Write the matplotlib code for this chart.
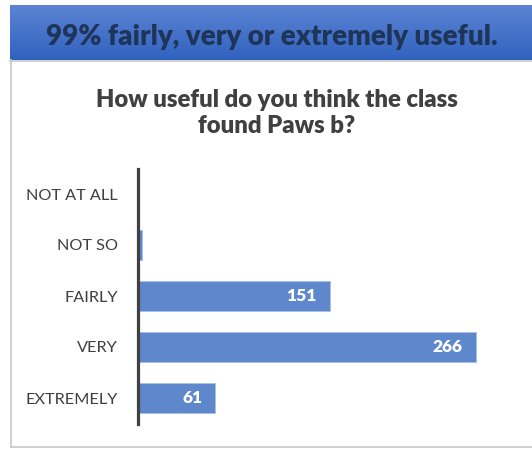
import numpy as np
import matplotlib
matplotlib.use('Agg')
import matplotlib.pyplot as plt
from matplotlib.lines import Line2D

# data
categories = ['NOT AT ALL', 'NOT SO', 'FAIRLY', 'VERY', 'EXTREMELY']
counts = [0, 3, 151, 266, 61]
headline = '99% fairly, very or extremely useful.'
chart_title = 'How useful do you think the class\nfound Paws b?'

W, H = 532, 450
barColor = '#5f87cc'
textGrey = '#404040'

plt.rcParams['font.family'] = ['Lato', 'DejaVu Sans']

fig = plt.figure(figsize=(W / 100, H / 100), dpi=100)
fig.patch.set_facecolor('white')

# header band with vertical gradient
hax = fig.add_axes([10 / W, 1 - 60 / H, (W - 10) / W, 55 / H])
grad = np.linspace(0, 1, 100).reshape(-1, 1)
top = np.array([92, 132, 212]) / 255
bot = np.array([48, 98, 190]) / 255
img = top + (bot - top) * grad[..., None]
img = np.repeat(img, 2, axis=1)
hax.imshow(img, aspect='auto', extent=[0, 1, 0, 1])
hax.set_xlim(0, 1)
hax.set_ylim(0, 1)
hax.axis('off')
fig.text(272 / W, 1 - 37 / H, headline, ha='center', va='center',
         fontsize=20, fontweight='heavy', color='#1e3459')

# grey box outline (left + bottom + header bottom edge)
fig.add_artist(Line2D([11 / W, 11 / W], [1 - 60 / H, 1 - 447 / H], color='#c8c8c8', lw=1.2))
fig.add_artist(Line2D([11 / W, 1], [1 - 447 / H, 1 - 447 / H], color='#c8c8c8', lw=1.2))
fig.add_artist(Line2D([10 / W, 1], [1 - 60.5 / H, 1 - 60.5 / H], color='#c8c8c8', lw=1.2))

# chart title
fig.text(277 / W, 1 - 113 / H, chart_title, ha='center', va='center',
         fontsize=17.2, fontweight='heavy', color=textGrey, linespacing=1.2)

# bar chart
x0, xmax, pxPerUnit = 138, 300, 1.27
yTop, yBot = 168.5, 423.5
ax = fig.add_axes([x0 / W, 1 - yBot / H, xmax * pxPerUnit / W, (yBot - yTop) / H])
ypos = np.arange(len(categories))
ax.barh(ypos, counts, height=0.6, color=barColor, edgecolor='#a9c0e6', linewidth=0.6)
ax.set_ylim(len(categories) - 0.5, -0.5)
ax.set_xlim(0, xmax)
ax.set_yticks(ypos)
ax.set_yticklabels(categories, fontsize=11.7, color=textGrey)
ax.tick_params(axis='y', length=0, pad=14.5)
ax.set_xticks([])
for s in ['top', 'right', 'bottom']:
    ax.spines[s].set_visible(False)
ax.spines['left'].set_linewidth(2.3)
ax.spines['left'].set_color('#404040')
ax.patch.set_alpha(0)

for y, v in zip(ypos, counts):
    if v > 20:
        ax.annotate(str(v), xy=(v, y), xytext=(-9.5, 0), textcoords='offset points',
                    ha='right', va='center', color='white', fontsize=12.5, fontweight='heavy')

fig.savefig('out.png', dpi=100)
